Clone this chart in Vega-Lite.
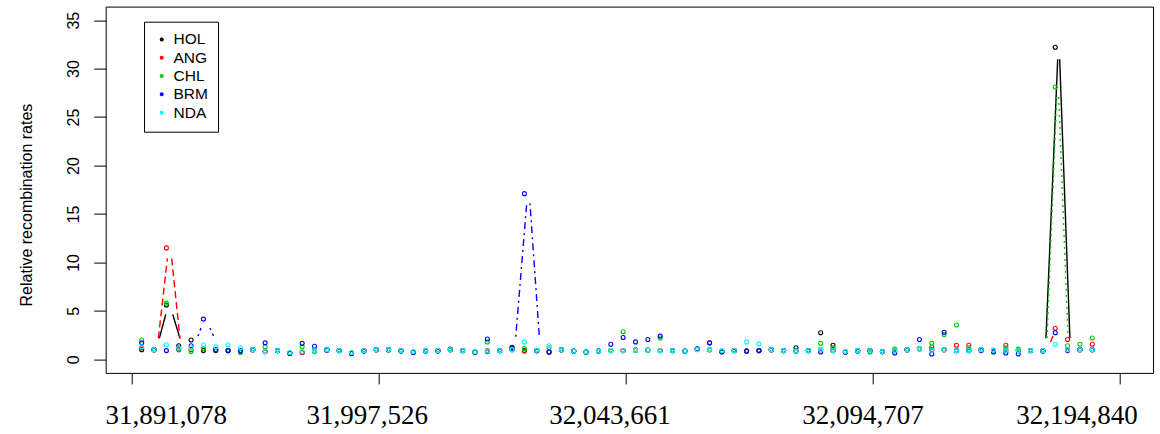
{
"$schema": "https://vega.github.io/schema/vega-lite/v6.json",
"width": 1047.3, "height": 366.3,
"autosize": {"type": "none"},
"padding": {"left": 105.7, "top": 6.6, "right": 7, "bottom": 61.1},
"background": "white",
"config": {"view": {"stroke": "black", "strokeWidth": 1}, "font": "Liberation Sans"},
"datasets": {
"segs": [
{"s":"HOL","i":2.43,"v":2.17,"i2":2.95,"v2":4.64},
{"s":"HOL","i":3.51,"v":4.64,"i2":4.10,"v2":2.17},
{"s":"ANG","i":2.35,"v":2.17,"i2":3.08,"v2":10.42},
{"s":"ANG","i":3.43,"v":10.42,"i2":4.10,"v2":2.17},
{"s":"BRM","i":5.56,"v":2.4,"i2":5.80,"v2":3.23},
{"s":"BRM","i":6.53,"v":3.23,"i2":6.82,"v2":2.4},
{"s":"BRM","i":31.30,"v":2.33,"i2":32.19,"v2":16.1},
{"s":"BRM","i":32.45,"v":16.1,"i2":33.21,"v2":2.33},
{"s":"HOL","i":74.25,"v":2.17,"i2":75.20,"v2":30.96},
{"s":"HOL","i":75.36,"v":30.96,"i2":76.19,"v2":2.17},
{"s":"CHL","i":74.33,"v":2.2,"i2":75.12,"v2":27.07},
{"s":"CHL","i":75.28,"v":27.07,"i2":76.04,"v2":2.2},
{"s":"ANG","i":74.62,"v":1.79,"i2":74.82,"v2":2.4}
],
"pts": [
{"i":1,"s":"HOL","v":1.0},{"i":2,"s":"HOL","v":1.0},{"i":3,"s":"HOL","v":5.6},{"i":4,"s":"HOL","v":1.4},{"i":5,"s":"HOL","v":2.0},{"i":6,"s":"HOL","v":0.9},{"i":7,"s":"HOL","v":0.9},{"i":8,"s":"HOL","v":0.9},{"i":9,"s":"HOL","v":0.8},{"i":10,"s":"HOL","v":1.0},
{"i":11,"s":"HOL","v":0.8},{"i":12,"s":"HOL","v":0.9},{"i":13,"s":"HOL","v":0.65},{"i":14,"s":"HOL","v":0.7},{"i":15,"s":"HOL","v":0.9},{"i":16,"s":"HOL","v":1.0},{"i":17,"s":"HOL","v":0.9},{"i":18,"s":"HOL","v":0.65},{"i":19,"s":"HOL","v":0.9},{"i":20,"s":"HOL","v":1.0},
{"i":21,"s":"HOL","v":1.0},{"i":22,"s":"HOL","v":0.9},{"i":23,"s":"HOL","v":0.75},{"i":24,"s":"HOL","v":0.9},{"i":25,"s":"HOL","v":0.9},{"i":26,"s":"HOL","v":1.0},{"i":27,"s":"HOL","v":0.9},{"i":28,"s":"HOL","v":0.75},{"i":29,"s":"HOL","v":0.8},{"i":30,"s":"HOL","v":0.9},
{"i":31,"s":"HOL","v":1.25},{"i":32,"s":"HOL","v":0.9},{"i":33,"s":"HOL","v":0.9},{"i":34,"s":"HOL","v":0.75},{"i":35,"s":"HOL","v":1.0},{"i":36,"s":"HOL","v":0.85},{"i":37,"s":"HOL","v":0.75},{"i":38,"s":"HOL","v":0.85},{"i":39,"s":"HOL","v":0.9},{"i":40,"s":"HOL","v":0.9},
{"i":41,"s":"HOL","v":0.95},{"i":42,"s":"HOL","v":0.95},{"i":43,"s":"HOL","v":0.9},{"i":44,"s":"HOL","v":0.9},{"i":45,"s":"HOL","v":0.85},{"i":46,"s":"HOL","v":1.05},{"i":47,"s":"HOL","v":1.0},{"i":48,"s":"HOL","v":0.8},{"i":49,"s":"HOL","v":0.9},{"i":50,"s":"HOL","v":0.85},
{"i":51,"s":"HOL","v":0.9},{"i":52,"s":"HOL","v":1.0},{"i":53,"s":"HOL","v":0.9},{"i":54,"s":"HOL","v":1.2},{"i":55,"s":"HOL","v":0.9},{"i":56,"s":"HOL","v":2.75},{"i":57,"s":"HOL","v":1.45},{"i":58,"s":"HOL","v":0.75},{"i":59,"s":"HOL","v":0.9},{"i":60,"s":"HOL","v":0.9},
{"i":61,"s":"HOL","v":0.8},{"i":62,"s":"HOL","v":0.9},{"i":63,"s":"HOL","v":1.0},{"i":64,"s":"HOL","v":1.1},{"i":65,"s":"HOL","v":1.0},{"i":66,"s":"HOL","v":1.0},{"i":67,"s":"HOL","v":0.9},{"i":68,"s":"HOL","v":0.9},{"i":69,"s":"HOL","v":1.0},{"i":70,"s":"HOL","v":0.9},
{"i":71,"s":"HOL","v":0.9},{"i":72,"s":"HOL","v":0.9},{"i":73,"s":"HOL","v":0.9},{"i":74,"s":"HOL","v":0.9},{"i":75,"s":"HOL","v":32.2},{"i":76,"s":"HOL","v":1.0},{"i":77,"s":"HOL","v":1.0},{"i":78,"s":"HOL","v":1.0},
{"i":1,"s":"ANG","v":1.2},{"i":2,"s":"ANG","v":1.0},{"i":3,"s":"ANG","v":11.5},{"i":4,"s":"ANG","v":1.0},{"i":5,"s":"ANG","v":1.0},{"i":6,"s":"ANG","v":1.1},{"i":7,"s":"ANG","v":1.0},{"i":8,"s":"ANG","v":0.9},{"i":9,"s":"ANG","v":0.8},{"i":10,"s":"ANG","v":1.0},
{"i":11,"s":"ANG","v":0.8},{"i":12,"s":"ANG","v":0.9},{"i":13,"s":"ANG","v":0.65},{"i":14,"s":"ANG","v":0.7},{"i":15,"s":"ANG","v":0.9},{"i":16,"s":"ANG","v":1.0},{"i":17,"s":"ANG","v":0.9},{"i":18,"s":"ANG","v":0.65},{"i":19,"s":"ANG","v":0.9},{"i":20,"s":"ANG","v":1.0},
{"i":21,"s":"ANG","v":1.0},{"i":22,"s":"ANG","v":0.9},{"i":23,"s":"ANG","v":0.75},{"i":24,"s":"ANG","v":0.9},{"i":25,"s":"ANG","v":0.9},{"i":26,"s":"ANG","v":1.05},{"i":27,"s":"ANG","v":0.9},{"i":28,"s":"ANG","v":0.75},{"i":29,"s":"ANG","v":0.9},{"i":30,"s":"ANG","v":0.9},
{"i":31,"s":"ANG","v":1.0},{"i":32,"s":"ANG","v":0.85},{"i":33,"s":"ANG","v":0.9},{"i":34,"s":"ANG","v":0.75},{"i":35,"s":"ANG","v":1.0},{"i":36,"s":"ANG","v":0.85},{"i":37,"s":"ANG","v":0.75},{"i":38,"s":"ANG","v":0.85},{"i":39,"s":"ANG","v":0.9},{"i":40,"s":"ANG","v":0.9},
{"i":41,"s":"ANG","v":0.95},{"i":42,"s":"ANG","v":0.95},{"i":43,"s":"ANG","v":0.9},{"i":44,"s":"ANG","v":0.9},{"i":45,"s":"ANG","v":0.85},{"i":46,"s":"ANG","v":1.05},{"i":47,"s":"ANG","v":1.7},{"i":48,"s":"ANG","v":0.8},{"i":49,"s":"ANG","v":0.9},{"i":50,"s":"ANG","v":0.85},
{"i":51,"s":"ANG","v":0.9},{"i":52,"s":"ANG","v":1.0},{"i":53,"s":"ANG","v":0.9},{"i":54,"s":"ANG","v":0.85},{"i":55,"s":"ANG","v":0.9},{"i":56,"s":"ANG","v":1.0},{"i":57,"s":"ANG","v":0.9},{"i":58,"s":"ANG","v":0.75},{"i":59,"s":"ANG","v":0.9},{"i":60,"s":"ANG","v":0.9},
{"i":61,"s":"ANG","v":0.8},{"i":62,"s":"ANG","v":0.9},{"i":63,"s":"ANG","v":1.0},{"i":64,"s":"ANG","v":1.1},{"i":65,"s":"ANG","v":1.25},{"i":66,"s":"ANG","v":1.0},{"i":67,"s":"ANG","v":1.45},{"i":68,"s":"ANG","v":1.45},{"i":69,"s":"ANG","v":1.0},{"i":70,"s":"ANG","v":0.9},
{"i":71,"s":"ANG","v":1.45},{"i":72,"s":"ANG","v":0.9},{"i":73,"s":"ANG","v":0.9},{"i":74,"s":"ANG","v":0.9},{"i":75,"s":"ANG","v":3.2},{"i":76,"s":"ANG","v":2.05},{"i":77,"s":"ANG","v":1.0},{"i":78,"s":"ANG","v":1.55},
{"i":1,"s":"CHL","v":2.0},{"i":2,"s":"CHL","v":1.0},{"i":3,"s":"CHL","v":5.8},{"i":4,"s":"CHL","v":1.05},{"i":5,"s":"CHL","v":0.8},{"i":6,"s":"CHL","v":1.1},{"i":7,"s":"CHL","v":1.0},{"i":8,"s":"CHL","v":0.9},{"i":9,"s":"CHL","v":0.7},{"i":10,"s":"CHL","v":1.0},
{"i":11,"s":"CHL","v":1.3},{"i":12,"s":"CHL","v":0.9},{"i":13,"s":"CHL","v":0.65},{"i":14,"s":"CHL","v":1.3},{"i":15,"s":"CHL","v":0.8},{"i":16,"s":"CHL","v":1.0},{"i":17,"s":"CHL","v":0.9},{"i":18,"s":"CHL","v":0.65},{"i":19,"s":"CHL","v":0.9},{"i":20,"s":"CHL","v":1.0},
{"i":21,"s":"CHL","v":1.0},{"i":22,"s":"CHL","v":0.9},{"i":23,"s":"CHL","v":0.75},{"i":24,"s":"CHL","v":0.9},{"i":25,"s":"CHL","v":0.9},{"i":26,"s":"CHL","v":1.05},{"i":27,"s":"CHL","v":0.9},{"i":28,"s":"CHL","v":0.75},{"i":29,"s":"CHL","v":1.8},{"i":30,"s":"CHL","v":0.9},
{"i":31,"s":"CHL","v":1.0},{"i":32,"s":"CHL","v":1.1},{"i":33,"s":"CHL","v":0.9},{"i":34,"s":"CHL","v":1.2},{"i":35,"s":"CHL","v":1.0},{"i":36,"s":"CHL","v":0.85},{"i":37,"s":"CHL","v":0.75},{"i":38,"s":"CHL","v":0.85},{"i":39,"s":"CHL","v":0.9},{"i":40,"s":"CHL","v":2.85},
{"i":41,"s":"CHL","v":0.95},{"i":42,"s":"CHL","v":0.95},{"i":43,"s":"CHL","v":2.2},{"i":44,"s":"CHL","v":0.9},{"i":45,"s":"CHL","v":0.85},{"i":46,"s":"CHL","v":1.05},{"i":47,"s":"CHL","v":1.0},{"i":48,"s":"CHL","v":0.8},{"i":49,"s":"CHL","v":0.9},{"i":50,"s":"CHL","v":0.85},
{"i":51,"s":"CHL","v":0.9},{"i":52,"s":"CHL","v":1.0},{"i":53,"s":"CHL","v":0.9},{"i":54,"s":"CHL","v":0.85},{"i":55,"s":"CHL","v":0.9},{"i":56,"s":"CHL","v":1.65},{"i":57,"s":"CHL","v":1.2},{"i":58,"s":"CHL","v":0.75},{"i":59,"s":"CHL","v":0.9},{"i":60,"s":"CHL","v":0.75},
{"i":61,"s":"CHL","v":0.8},{"i":62,"s":"CHL","v":1.05},{"i":63,"s":"CHL","v":1.0},{"i":64,"s":"CHL","v":1.1},{"i":65,"s":"CHL","v":1.65},{"i":66,"s":"CHL","v":2.55},{"i":67,"s":"CHL","v":3.55},{"i":68,"s":"CHL","v":1.2},{"i":69,"s":"CHL","v":1.0},{"i":70,"s":"CHL","v":0.9},
{"i":71,"s":"CHL","v":1.2},{"i":72,"s":"CHL","v":1.05},{"i":73,"s":"CHL","v":0.9},{"i":74,"s":"CHL","v":0.9},{"i":75,"s":"CHL","v":28.1},{"i":76,"s":"CHL","v":1.4},{"i":77,"s":"CHL","v":1.55},{"i":78,"s":"CHL","v":2.2},
{"i":1,"s":"BRM","v":1.7},{"i":2,"s":"BRM","v":1.0},{"i":3,"s":"BRM","v":0.9},{"i":4,"s":"BRM","v":1.2},{"i":5,"s":"BRM","v":1.4},{"i":6,"s":"BRM","v":4.15},{"i":7,"s":"BRM","v":1.0},{"i":8,"s":"BRM","v":0.9},{"i":9,"s":"BRM","v":0.9},{"i":10,"s":"BRM","v":1.0},
{"i":11,"s":"BRM","v":1.7},{"i":12,"s":"BRM","v":0.9},{"i":13,"s":"BRM","v":0.6},{"i":14,"s":"BRM","v":1.65},{"i":15,"s":"BRM","v":1.35},{"i":16,"s":"BRM","v":0.95},{"i":17,"s":"BRM","v":0.9},{"i":18,"s":"BRM","v":0.6},{"i":19,"s":"BRM","v":0.85},{"i":20,"s":"BRM","v":1.0},
{"i":21,"s":"BRM","v":1.0},{"i":22,"s":"BRM","v":0.85},{"i":23,"s":"BRM","v":0.7},{"i":24,"s":"BRM","v":0.85},{"i":25,"s":"BRM","v":0.85},{"i":26,"s":"BRM","v":1.0},{"i":27,"s":"BRM","v":0.9},{"i":28,"s":"BRM","v":0.75},{"i":29,"s":"BRM","v":2.1},{"i":30,"s":"BRM","v":0.9},
{"i":31,"s":"BRM","v":1.1},{"i":32,"s":"BRM","v":17.1},{"i":33,"s":"BRM","v":0.9},{"i":34,"s":"BRM","v":0.75},{"i":35,"s":"BRM","v":1.0},{"i":36,"s":"BRM","v":0.85},{"i":37,"s":"BRM","v":0.75},{"i":38,"s":"BRM","v":0.85},{"i":39,"s":"BRM","v":1.55},{"i":40,"s":"BRM","v":2.25},
{"i":41,"s":"BRM","v":1.8},{"i":42,"s":"BRM","v":2.05},{"i":43,"s":"BRM","v":2.4},{"i":44,"s":"BRM","v":0.9},{"i":45,"s":"BRM","v":0.85},{"i":46,"s":"BRM","v":1.05},{"i":47,"s":"BRM","v":1.7},{"i":48,"s":"BRM","v":0.75},{"i":49,"s":"BRM","v":0.9},{"i":50,"s":"BRM","v":0.85},
{"i":51,"s":"BRM","v":0.9},{"i":52,"s":"BRM","v":1.0},{"i":53,"s":"BRM","v":0.9},{"i":54,"s":"BRM","v":0.85},{"i":55,"s":"BRM","v":0.9},{"i":56,"s":"BRM","v":0.75},{"i":57,"s":"BRM","v":0.9},{"i":58,"s":"BRM","v":0.75},{"i":59,"s":"BRM","v":0.85},{"i":60,"s":"BRM","v":0.9},
{"i":61,"s":"BRM","v":0.8},{"i":62,"s":"BRM","v":0.65},{"i":63,"s":"BRM","v":1.0},{"i":64,"s":"BRM","v":2.05},{"i":65,"s":"BRM","v":0.55},{"i":66,"s":"BRM","v":2.8},{"i":67,"s":"BRM","v":0.9},{"i":68,"s":"BRM","v":0.9},{"i":69,"s":"BRM","v":0.9},{"i":70,"s":"BRM","v":0.75},
{"i":71,"s":"BRM","v":0.65},{"i":72,"s":"BRM","v":0.55},{"i":73,"s":"BRM","v":0.9},{"i":74,"s":"BRM","v":0.85},{"i":75,"s":"BRM","v":2.75},{"i":76,"s":"BRM","v":0.9},{"i":77,"s":"BRM","v":1.0},{"i":78,"s":"BRM","v":1.0},
{"i":1,"s":"NDA","v":1.3},{"i":2,"s":"NDA","v":1.0},{"i":3,"s":"NDA","v":1.5},{"i":4,"s":"NDA","v":1.2},{"i":5,"s":"NDA","v":1.2},{"i":6,"s":"NDA","v":1.5},{"i":7,"s":"NDA","v":1.3},{"i":8,"s":"NDA","v":1.5},{"i":9,"s":"NDA","v":1.2},{"i":10,"s":"NDA","v":1.0},
{"i":11,"s":"NDA","v":0.8},{"i":12,"s":"NDA","v":0.9},{"i":13,"s":"NDA","v":0.7},{"i":14,"s":"NDA","v":0.8},{"i":15,"s":"NDA","v":0.9},{"i":16,"s":"NDA","v":1.0},{"i":17,"s":"NDA","v":0.9},{"i":18,"s":"NDA","v":0.7},{"i":19,"s":"NDA","v":0.9},{"i":20,"s":"NDA","v":1.0},
{"i":21,"s":"NDA","v":1.0},{"i":22,"s":"NDA","v":0.9},{"i":23,"s":"NDA","v":0.8},{"i":24,"s":"NDA","v":0.9},{"i":25,"s":"NDA","v":0.9},{"i":26,"s":"NDA","v":1.0},{"i":27,"s":"NDA","v":0.9},{"i":28,"s":"NDA","v":0.8},{"i":29,"s":"NDA","v":0.85},{"i":30,"s":"NDA","v":0.9},
{"i":31,"s":"NDA","v":1.0},{"i":32,"s":"NDA","v":1.8},{"i":33,"s":"NDA","v":0.95},{"i":34,"s":"NDA","v":1.4},{"i":35,"s":"NDA","v":1.0},{"i":36,"s":"NDA","v":0.85},{"i":37,"s":"NDA","v":0.75},{"i":38,"s":"NDA","v":0.85},{"i":39,"s":"NDA","v":0.9},{"i":40,"s":"NDA","v":0.9},
{"i":41,"s":"NDA","v":0.95},{"i":42,"s":"NDA","v":0.95},{"i":43,"s":"NDA","v":0.9},{"i":44,"s":"NDA","v":0.9},{"i":45,"s":"NDA","v":0.85},{"i":46,"s":"NDA","v":1.0},{"i":47,"s":"NDA","v":1.0},{"i":48,"s":"NDA","v":0.9},{"i":49,"s":"NDA","v":0.9},{"i":50,"s":"NDA","v":1.8},
{"i":51,"s":"NDA","v":1.6},{"i":52,"s":"NDA","v":1.0},{"i":53,"s":"NDA","v":0.9},{"i":54,"s":"NDA","v":0.85},{"i":55,"s":"NDA","v":0.9},{"i":56,"s":"NDA","v":1.0},{"i":57,"s":"NDA","v":0.9},{"i":58,"s":"NDA","v":0.8},{"i":59,"s":"NDA","v":0.9},{"i":60,"s":"NDA","v":0.9},
{"i":61,"s":"NDA","v":0.8},{"i":62,"s":"NDA","v":0.9},{"i":63,"s":"NDA","v":1.0},{"i":64,"s":"NDA","v":1.1},{"i":65,"s":"NDA","v":0.95},{"i":66,"s":"NDA","v":1.0},{"i":67,"s":"NDA","v":0.9},{"i":68,"s":"NDA","v":0.9},{"i":69,"s":"NDA","v":1.0},{"i":70,"s":"NDA","v":0.95},
{"i":71,"s":"NDA","v":0.9},{"i":72,"s":"NDA","v":0.9},{"i":73,"s":"NDA","v":0.9},{"i":74,"s":"NDA","v":0.9},{"i":75,"s":"NDA","v":1.55},{"i":76,"s":"NDA","v":1.0},{"i":77,"s":"NDA","v":1.0},{"i":78,"s":"NDA","v":1.0}
]
},
"encoding": {
  "x": {"field": "i", "type": "quantitative",
    "scale": {"domain": [-1.916, 82.92], "nice": false, "zero": false},
    "axis": {"values": [0.2, 20.2, 40.2, 60.2, 80.2],
      "title": null, "domain": false, "grid": false,
      "tickColor": "black", "tickSize": 11, "tickWidth": 1,
      "labelFont": "Liberation Serif", "labelFontSize": 27, "labelColor": "black",
      "labelBaseline": "alphabetic", "labelAlign": "center", "labelPadding": 40,
      "labelFlush": false, "labelOverlap": false, "labelBound": false,
      "labelOffset": {"condition": [{"test": "datum.value < 10", "value": 34}, {"test": "datum.value < 30", "value": -12}, {"test": "datum.value < 50", "value": -16}, {"test": "datum.value < 70", "value": -10}], "value": -43},
      "labelExpr": "datum.value < 10 ? '31,891,078' : datum.value < 30 ? '31,997,526' : datum.value < 50 ? '32,043,661' : datum.value < 70 ? '32,094,707' : '32,194,840'"
    }},
  "y": {"field": "v", "type": "quantitative",
    "scale": {"domain": [-1.4, 36.4], "nice": false, "zero": false},
    "axis": {"values": [0, 5, 10, 15, 20, 25, 30, 35],
      "title": "Relative recombination rates", "domain": false, "grid": false,
      "tickColor": "black", "tickSize": 12, "tickWidth": 1,
      "labelFont": "Liberation Sans", "labelFontSize": 16, "labelColor": "black",
      "labelAngle": -90, "labelAlign": "center", "labelBaseline": "alphabetic", "labelPadding": 15,
      "labelOverlap": false, "labelBound": false, "labelFlush": false,
      "titleFont": "Liberation Sans", "titleFontSize": 16, "titleFontWeight": "normal", "titleColor": "black",
      "titleAngle": -90, "titleAlign": "center", "titleBaseline": "alphabetic", "titleX": -74, "titleY": 198
    }},
  "color": {"field": "s", "type": "nominal",
    "scale": {"domain": ["HOL", "ANG", "CHL", "BRM", "NDA"], "range": ["#000000", "#FF0000", "#00CD00", "#0000FF", "#00FFFF"]}}
},
"layer": [
  {"data": {"name": "segs"},
   "mark": {"type": "rule", "strokeWidth": 1.4},
   "encoding": {
     "x2": {"field": "i2"},
     "y2": {"field": "v2"},
     "color": {"field": "s", "type": "nominal", "legend": null},
     "strokeDash": {"field": "s", "type": "nominal", "legend": null,
       "scale": {"domain": ["HOL", "ANG", "CHL", "BRM", "NDA"], "range": [[1, 0], [7, 4], [2, 4], [2, 4, 7, 4], [10, 4]]}}
   }},
  {"data": {"name": "pts"},
   "mark": {"type": "point", "shape": "circle", "filled": false, "size": 16, "strokeWidth": 1.1, "opacity": 1},
   "encoding": {
     "color": {"field": "s", "type": "nominal",
       "legend": {"title": null, "orient": "none", "legendX": 38.3, "legendY": 15.1,
         "strokeColor": "black", "fillColor": "white", "padding": 10,
         "labelFont": "Liberation Sans", "labelFontSize": 15.5, "labelColor": "black", "labelOffset": 4,
         "rowPadding": 1.3, "symbolType": "circle", "symbolSize": 5, "symbolStrokeWidth": 1.8, "symbolOpacity": 1}}
   }}
],
"resolve": {"legend": {"color": "independent"}}
}
